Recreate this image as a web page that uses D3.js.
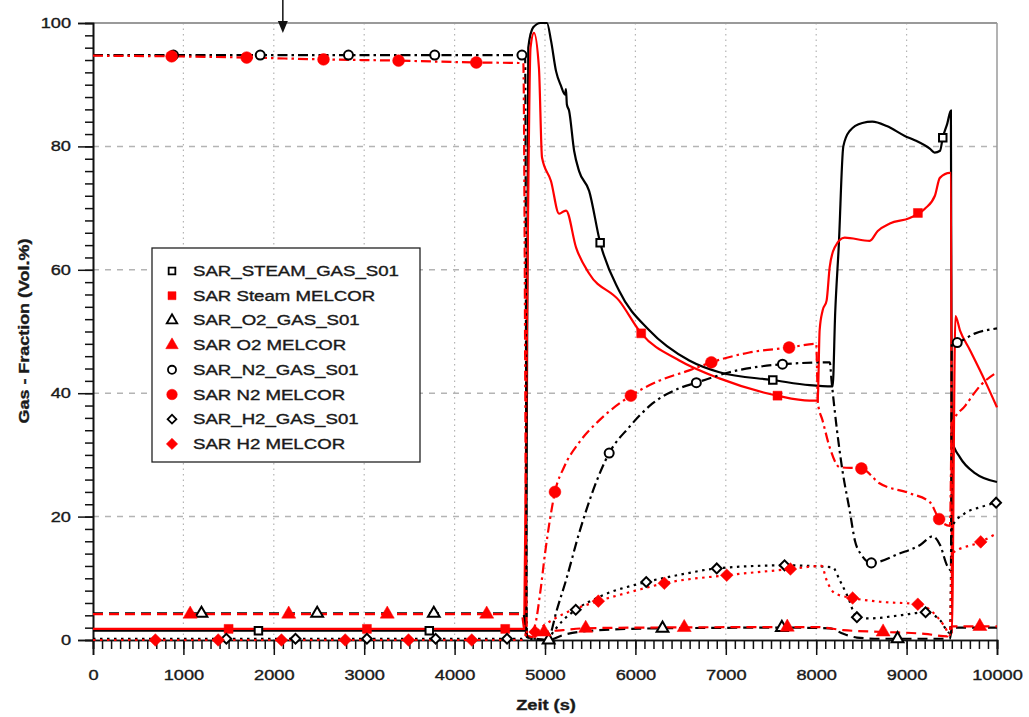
<!DOCTYPE html>
<html>
<head>
<meta charset="utf-8">
<script src="https://cdn.jsdelivr.net/npm/d3@7/dist/d3.min.js"></script>
<style>
body { margin: 0; background: #fff; }
svg { display: block; }
text { font-family: "Liberation Sans", Arial, sans-serif; fill: #1a1a1a; stroke: #1a1a1a; stroke-width: 0.35px; }
</style>
</head>
<body>
<svg id="chart" width="1029" height="717"></svg>
<script>
// values: time (s) / gas fraction (Vol.%)
var steamGasT = [0, 4790, 4815, 4870, 4950, 5022, 5067, 5122, 5177, 5222, 5232, 5242, 5266, 5322, 5377, 5488, 5610, 5820, 6153, 6596, 6929, 7539, 7927, 8182, 8210, 8250, 8300, 8370, 8510, 8620, 8780, 8980, 9090, 9260, 9310, 9370, 9400, 9450, 9490, 9500, 9590, 9760, 10000];
var steamGasV = [1.5, 1.5, 96, 99.3, 100, 100, 97.1, 92.2, 89.8, 88.4, 89.3, 86.8, 85.8, 79.3, 76, 72.8, 64.4, 56.6, 50.2, 45.3, 43.4, 42.1, 41.3, 41.1, 53, 64, 80, 82.5, 83.8, 84, 83.3, 81.7, 81, 79.6, 79, 79.3, 81.4, 83.7, 85.8, 32.4, 29.6, 27, 25.6];
var steamGasMarks = [1830, 3720, 5610, 7520, 9400];

var steamMelT = [0, 4770, 4800, 4840, 4878, 4933, 4967, 5066, 5155, 5200, 5233, 5344, 5488, 5820, 6064, 6486, 6929, 7572, 7927, 8016, 8038, 8071, 8115, 8149, 8204, 8315, 8592, 8681, 8814, 9035, 9202, 9313, 9368, 9479, 9492, 9500, 9540, 9590, 9700, 9867, 10000];
var steamMelV = [1.8, 1.8, 50, 96, 98.4, 92.7, 78.2, 74.4, 69.1, 69.4, 69.6, 63.6, 59.4, 55, 49.7, 45.3, 42.4, 39.6, 38.8, 38.8, 50.2, 53.4, 55, 60.4, 63.6, 65.2, 64.7, 66.3, 67.5, 68.4, 69.9, 72, 74.9, 75.7, 75.7, 1, 52.5, 50.2, 47, 42, 37.7];
var steamMelMarks = [1500, 3030, 4560, 6064, 7572, 9125];

var o2GasT = [0, 4760, 4800, 4900, 5040, 5200, 5500, 6300, 7620, 8150, 8300, 8450, 8700, 9480, 9500, 10000];
var o2GasV = [4.3, 4.3, 0.5, 0.2, 0, 0.8, 1.5, 1.9, 2, 1.9, 1, 0.4, 0.2, 0.2, 2, 2];
var o2GasMarks = [1200, 2480, 3770, 5040, 6300, 7620, 8900];

var o2MelT = [0, 4740, 4780, 4850, 4990, 5200, 5450, 6000, 8000, 8300, 8740, 9200, 9450, 9500, 10000];
var o2MelV = [4.2, 4.2, 1, 0.5, 1.3, 1.6, 1.9, 2, 2.1, 1.6, 1.3, 1, 0.6, 2.2, 2.2];
var o2MelMarks = [1075, 2165, 3255, 4355, 4990, 5450, 6540, 7680, 8740, 9810];

var n2GasT = [0, 4780, 4800, 5000, 5060, 5122, 5233, 5377, 5521, 5710, 5931, 6186, 6486, 6674, 7040, 7627, 8150, 8170, 8230, 8290, 8370, 8430, 8500, 8610, 8920, 9150, 9290, 9370, 9450, 9490, 9500, 9560, 9760, 10000];
var n2GasV = [94.8, 94.8, 0.3, 0, 1, 4.4, 9.7, 17.3, 23.8, 30.3, 34.5, 38.3, 40.8, 41.7, 43.4, 44.7, 45, 42, 34, 27.5, 21, 16, 13.8, 12.5, 14, 15.4, 16.8, 15.4, 12, 11.3, 48, 48.2, 49.7, 50.5];
var n2GasMarks = [890, 1850, 2826, 3780, 4745, 5710, 6674, 7627, 8610, 9560];

var n2MelT = [0, 870, 1700, 2550, 3380, 4240, 4760, 4800, 4880, 4950, 5000, 5060, 5110, 5210, 5377, 5600, 5950, 6260, 6596, 6840, 7260, 7700, 8000, 8020, 8070, 8150, 8260, 8500, 8700, 9030, 9260, 9360, 9480, 9500, 9650, 9820, 10000];
var n2MelV = [94.7, 94.6, 94.4, 94.1, 93.9, 93.6, 93.5, 1, 2, 8, 14, 20, 24, 28, 32, 35.6, 39.6, 42, 43.7, 45, 46.6, 47.4, 48, 38.3, 35.6, 31.2, 28, 27.8, 25.4, 23.8, 22.3, 19.6, 18.5, 35, 38, 41.3, 43.4];
var n2MelMarks = [870, 1700, 2550, 3380, 4240, 5110, 5950, 6840, 7700, 8500, 9360];

var h2GasT = [0, 4740, 4780, 4850, 5020, 5100, 5200, 5340, 5600, 6120, 6500, 6900, 7650, 8180, 8260, 8350, 8450, 8590, 8925, 9210, 9370, 9480, 9500, 9640, 9810, 10000];
var h2GasV = [0.2, 0.2, 0.5, 0.3, 0, 1.5, 3.2, 4.9, 7, 9.4, 10.6, 11.6, 12.1, 11.8, 9.7, 7, 3.7, 3.5, 4, 4.5, 3.2, 1.1, 18.3, 20.5, 21.5, 22.3];
var h2GasMarks = [1475, 2240, 3030, 3790, 4580, 5340, 6120, 6900, 7650, 8450, 9210, 9990];

var h2MelT = [0, 4750, 4800, 4890, 5000, 5200, 5590, 6000, 6320, 7010, 7715, 8060, 8115, 8204, 8403, 8703, 9124, 9257, 9424, 9479, 9500, 9820, 10000];
var h2MelV = [0, 0, 1, 1.3, 2.5, 4.2, 6.3, 8, 9.2, 10.5, 11.5, 12, 9.7, 7.6, 6.8, 6.2, 5.8, 4.9, 2.1, 0.8, 14, 15.9, 17.3];
var h2MelMarks = [690, 1385, 2085, 2790, 3490, 4190, 4890, 5590, 6320, 7010, 7715, 8403, 9124, 9820];

var xMajor = [0, 1000, 2000, 3000, 4000, 5000, 6000, 7000, 8000, 9000, 10000];
var yMajor = [0, 20, 40, 60, 80, 100];
var arrowTime = 2100;

var DASH = { solid: null, dash: '10,6', dashdot: '10,4,2.5,4', dot: '2.5,4.5' };
var series = [
    { name: 'SAR_STEAM_GAS_S01', color: '#000', dash: 'solid', sym: 'square', open: true, t: steamGasT, v: steamGasV, marks: steamGasMarks },
    { name: 'SAR Steam MELCOR', color: '#f00', dash: 'solid', sym: 'square', open: false, t: steamMelT, v: steamMelV, marks: steamMelMarks },
    { name: 'SAR_O2_GAS_S01', color: '#000', dash: 'dash', sym: 'triangle', open: true, t: o2GasT, v: o2GasV, marks: o2GasMarks },
    { name: 'SAR O2 MELCOR', color: '#f00', dash: 'dash', sym: 'triangle', open: false, t: o2MelT, v: o2MelV, marks: o2MelMarks },
    { name: 'SAR_N2_GAS_S01', color: '#000', dash: 'dashdot', sym: 'circle', open: true, t: n2GasT, v: n2GasV, marks: n2GasMarks },
    { name: 'SAR N2 MELCOR', color: '#f00', dash: 'dashdot', sym: 'circle', open: false, t: n2MelT, v: n2MelV, marks: n2MelMarks },
    { name: 'SAR_H2_GAS_S01', color: '#000', dash: 'dot', sym: 'diamond', open: true, t: h2GasT, v: h2GasV, marks: h2GasMarks },
    { name: 'SAR H2 MELCOR', color: '#f00', dash: 'dot', sym: 'diamond', open: false, t: h2MelT, v: h2MelV, marks: h2MelMarks }
];

var svg = d3.select('#chart');
var x = d3.scaleLinear().domain([0, 10000]).range([93, 997]);
var y = d3.scaleLinear().domain([0, 100]).range([640, 23]);
var SX = 1.3;   // the source lettering is wide

var stretch = function(sel, k) {
    sel.each(function() {
        var w = this.getComputedTextLength();
        d3.select(this).attr('textLength', w * k).attr('lengthAdjust', 'spacingAndGlyphs');
    });
};

// grid
svg.append('g').selectAll('line').data([20, 40, 60, 80]).enter().append('line')
    .attr('x1', x(0)).attr('x2', x(10000))
    .attr('y1', function(d) { return y(d); }).attr('y2', function(d) { return y(d); })
    .attr('stroke', '#b4b4b4').attr('stroke-width', 1.5).attr('stroke-dasharray', '6,6');
svg.append('g').selectAll('line').data(xMajor.slice(1, -1)).enter().append('line')
    .attr('x1', function(d) { return x(d); }).attr('x2', function(d) { return x(d); })
    .attr('y1', y(100)).attr('y2', y(0))
    .attr('stroke', '#b4b4b4').attr('stroke-width', 1.2).attr('stroke-dasharray', '1.5,4');
// frame top / right
svg.append('line').attr('x1', x(0)).attr('x2', x(10000)).attr('y1', y(100)).attr('y2', y(100))
    .attr('stroke', '#9a9a9a').attr('stroke-width', 2);
svg.append('line').attr('x1', x(10000)).attr('x2', x(10000)).attr('y1', y(100)).attr('y2', y(0))
    .attr('stroke', '#9a9a9a').attr('stroke-width', 1.5);

// axes
var yMinor = svg.append('g').attr('transform', 'translate(' + x(0) + ',0)')
    .call(d3.axisLeft(y).tickValues(d3.range(0, 101, 2)).tickSize(8).tickFormat(''));
var yAxis = svg.append('g').attr('transform', 'translate(' + x(0) + ',0)')
    .call(d3.axisLeft(y).tickValues(yMajor).tickSize(15).tickPadding(7).tickFormat(d3.format('d')));
var xMinor = svg.append('g').attr('transform', 'translate(0,' + y(0) + ')')
    .call(d3.axisBottom(x).tickValues(d3.range(0, 10001, 100)).tickSize(9).tickFormat(''));
var xAxis = svg.append('g').attr('transform', 'translate(0,' + y(0) + ')')
    .call(d3.axisBottom(x).tickValues(xMajor).tickSize(15).tickPadding(15).tickFormat(d3.format('d')));
[yMinor, yAxis, xMinor, xAxis].forEach(function(g) {
    g.selectAll('line').attr('stroke', '#111').attr('stroke-width', 1.5);
    g.select('.domain').attr('stroke', '#111').attr('stroke-width', 1.6);
});
[yAxis, xAxis].forEach(function(g) {
    g.selectAll('text').attr('font-size', 14).attr('fill', '#1a1a1a')
        .style('font-family', '"Liberation Sans", Arial, sans-serif').call(stretch, SX);
});

// axis titles
svg.append('text').attr('x', 546).attr('y', 710).attr('text-anchor', 'middle')
    .attr('font-size', 14).attr('font-weight', 'bold').text('Zeit (s)').call(stretch, SX);
svg.append('text').attr('transform', 'translate(29,331) rotate(-90)').attr('text-anchor', 'middle')
    .attr('font-size', 14).attr('font-weight', 'bold').text('Gas - Fraction (Vol.%)').call(stretch, 1.28);

// curves
var line = d3.line().curve(d3.curveMonotoneX)
    .x(function(d) { return x(d[0]); }).y(function(d) { return y(d[1]); });
var valueAt = function(s, t) {
    var i = d3.bisectLeft(s.t, t);
    if (i <= 0) { return s.v[0]; }
    if (i >= s.t.length) { return s.v[s.v.length - 1]; }
    var f = (t - s.t[i - 1]) / (s.t[i] - s.t[i - 1]);
    return s.v[i - 1] + f * (s.v[i] - s.v[i - 1]);
};
var symbolFor = function(s, big) {
    var k = big ? 1 : 0.8;
    if (s.sym === 'square') { return d3.symbol().type(d3.symbolSquare).size((s.open ? 56 : 80) * k)(); }
    if (s.sym === 'triangle') { return d3.symbol().type(d3.symbolTriangle).size((s.open ? 60 : 85) * k)(); }
    if (s.sym === 'circle') { return d3.symbol().type(d3.symbolCircle).size((s.open ? 64 : 110) * k)(); }
    return d3.symbol().type(d3.symbolSquare).size((s.open ? 48 : 80) * k)();
};

var lines = svg.append('g');
series.forEach(function(s) {
    lines.append('path')
        .attr('d', line(d3.zip(s.t, s.v)))
        .attr('fill', 'none')
        .attr('stroke', s.color)
        .attr('stroke-width', 2.2)
        .attr('stroke-dasharray', DASH[s.dash]);
});
var marks = svg.append('g');
series.forEach(function(s) {
    marks.selectAll(null).data(s.marks).enter().append('path')
        .attr('d', symbolFor(s, true))
        .attr('transform', function(t) {
            return 'translate(' + x(t) + ',' + y(valueAt(s, t)) + ')' + (s.sym === 'diamond' ? ' rotate(45)' : '');
        })
        .attr('fill', s.open ? '#fff' : s.color)
        .attr('stroke', s.color)
        .attr('stroke-width', s.open ? 2 : 0.5);
});

// arrow at the top
var ax = x(arrowTime);
svg.append('line').attr('x1', ax).attr('x2', ax).attr('y1', 0).attr('y2', 24)
    .attr('stroke', '#111').attr('stroke-width', 1.5);
svg.append('path').attr('d', 'M' + (ax - 5) + ',21L' + (ax + 5) + ',21L' + ax + ',33Z').attr('fill', '#111');

// legend
var lg = svg.append('g').attr('transform', 'translate(152,248)');
lg.append('rect').attr('width', 268).attr('height', 214)
    .attr('fill', '#fff').attr('stroke', '#222').attr('stroke-width', 1.3);
var rows = lg.selectAll('g.row').data(series).enter().append('g')
    .attr('class', 'row')
    .attr('transform', function(d, i) { return 'translate(0,' + (23 + i * 24.7) + ')'; });
rows.append('path')
    .attr('d', function(d) { return symbolFor(d, false); })
    .attr('transform', function(d) { return 'translate(20,0)' + (d.sym === 'diamond' ? ' rotate(45)' : ''); })
    .attr('fill', function(d) { return d.open ? '#fff' : d.color; })
    .attr('stroke', function(d) { return d.color; })
    .attr('stroke-width', function(d) { return d.open ? 1.8 : 0.5; });
rows.append('text').attr('x', 41).attr('y', 5).attr('font-size', 14)
    .text(function(d) { return d.name; })
    .call(stretch, 1.33);
</script>
</body>
</html>
